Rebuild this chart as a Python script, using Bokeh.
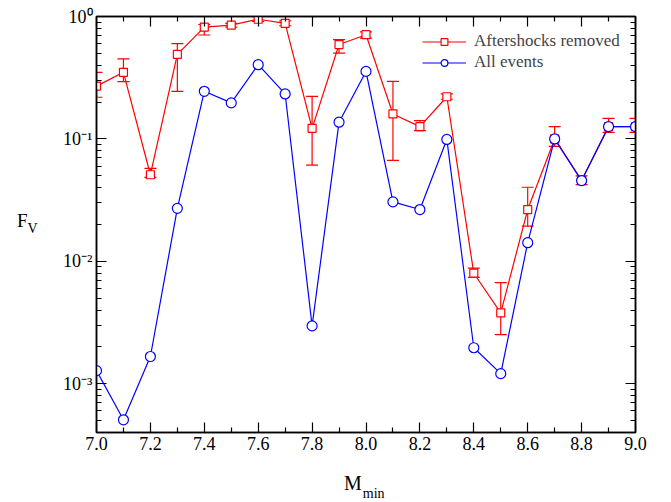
from bokeh.plotting import figure
from bokeh.models import (LogAxis, LinearAxis, FixedTicker, CustomJSTickFormatter, Whisker,
                          TeeHead, ColumnDataSource, Legend, LegendItem, Range1d, Div)
from bokeh.layouts import column
from bokeh.embed import file_html
from bokeh.resources import INLINE

# ---- data ----
m_min = [7.0, 7.1, 7.2, 7.3, 7.4, 7.5, 7.6, 7.7, 7.8, 7.9, 8.0,
         8.1, 8.2, 8.3, 8.4, 8.5, 8.6, 8.7, 8.8, 8.9, 9.0]
removed = [0.27, 0.35, 0.051, 0.49, 0.82, 0.85, 0.95, 0.88, 0.122, 0.59, 0.71,
           0.16, 0.126, 0.221, 0.0080, 0.0038, 0.0265, 0.100, 0.0457, 0.126, 0.126]
removed_upper = [0.35, 0.45, 0.0575, 0.60, 0.86, 0.88, 1.0, 0.92, 0.223, 0.647, 0.75,
                 0.295, 0.141, 0.233, 0.0088, 0.0067, 0.0403, 0.126, 0.050, 0.147, 0.147]
removed_lower = [0.219, 0.294, 0.0486, 0.245, 0.706, 0.82, 0.91, 0.84, 0.061, 0.503, 0.667,
                 0.0669, 0.117, 0.211, 0.0074, 0.00252, 0.0194, 0.087, 0.0424, 0.113, 0.113]
all_events = [0.00128, 0.000508, 0.00167, 0.0271, 0.245, 0.197, 0.404, 0.233, 0.00297, 0.137, 0.356,
              0.0306, 0.0265, 0.099, 0.00197, 0.00121, 0.0142, 0.100, 0.0457, 0.126, 0.126]

x_major = [7.0, 7.2, 7.4, 7.6, 7.8, 8.0, 8.2, 8.4, 8.6, 8.8, 9.0]
x_minor = [7.1, 7.3, 7.5, 7.7, 7.9, 8.1, 8.3, 8.5, 8.7, 8.9]
y_major = [1e-3, 1e-2, 1e-1, 1.0]
y_minor = [k * 10.0 ** e for e in (-4, -3, -2, -1) for k in range(2, 10)]

FONT = "Liberation Serif"
RED = "#ff0000"
BLUE = "#0000ff"

p = figure(width=665, height=500, x_range=Range1d(7.0, 9.0), y_range=Range1d(4e-4, 1.0),
           y_axis_type="log", output_backend="svg", toolbar_location=None,
           min_border_left=96, min_border_top=16, min_border_bottom=68, min_border_right=30)
p.grid.visible = False
p.outline_line_color = "black"
p.outline_line_width = 1.5

src = ColumnDataSource(dict(x=m_min, removed=removed, upper=removed_upper,
                            lower=removed_lower, allev=all_events))

whisk = Whisker(source=src, base="x", upper="upper", lower="lower",
                line_color=RED, line_width=1.2,
                upper_head=TeeHead(size=12, line_color=RED, line_width=1.2),
                lower_head=TeeHead(size=12, line_color=RED, line_width=1.2))
p.add_layout(whisk)

r_line = p.line("x", "removed", source=src, line_color=RED, line_width=1.2)
r_sq = p.scatter("x", "removed", source=src, marker="square", size=8,
                 line_color=RED, fill_color="white", line_width=1.2)
b_line = p.line("x", "allev", source=src, line_color=BLUE, line_width=1.2)
b_ci = p.scatter("x", "allev", source=src, marker="circle", size=10,
                 line_color=BLUE, fill_color="white", line_width=1.2)

sup_code = """
const sup = {'-':'\u207b','0':'\u2070','1':'\u00b9','2':'\u00b2','3':'\u00b3','4':'\u2074',
             '5':'\u2075','6':'\u2076','7':'\u2077','8':'\u2078','9':'\u2079'};
const e = Math.round(Math.log10(tick));
return '10' + String(e).split('').map(c => sup[c]).join('');
"""


def style(ax, labels=True):
    ax.axis_line_color = "black"
    ax.axis_line_width = 1.5
    ax.major_tick_line_color = "black"
    ax.minor_tick_line_color = "black"
    ax.major_tick_line_width = 1.2
    ax.minor_tick_line_width = 1.2
    ax.major_tick_in = 10
    ax.major_tick_out = 0
    ax.minor_tick_in = 5
    ax.minor_tick_out = 0
    ax.major_label_text_font = FONT
    ax.major_label_text_font_size = "18px" if labels else "0px"
    ax.major_label_text_color = "black"
    ax.major_label_standoff = 4 if labels else 0


xb = p.xaxis[0]
xb.ticker = FixedTicker(ticks=x_major, minor_ticks=x_minor)
xb.formatter = CustomJSTickFormatter(code="return tick.toFixed(1);")
style(xb)

yl = p.yaxis[0]
yl.ticker = FixedTicker(ticks=y_major, minor_ticks=y_minor)
yl.formatter = CustomJSTickFormatter(code=sup_code)
style(yl)

xt = LinearAxis(ticker=FixedTicker(ticks=x_major, minor_ticks=x_minor),
                formatter=CustomJSTickFormatter(code="return '';"))
style(xt, labels=False)
p.add_layout(xt, "above")

yr = LogAxis(ticker=FixedTicker(ticks=y_major, minor_ticks=y_minor),
             formatter=CustomJSTickFormatter(code="return '';"))
style(yr, labels=False)
p.add_layout(yr, "right")

legend = Legend(items=[LegendItem(label="Aftershocks removed", renderers=[r_line, r_sq]),
                       LegendItem(label="All events", renderers=[b_line, b_ci])],
                location=(326, 360), border_line_color=None, background_fill_alpha=0,
                label_text_font=FONT, label_text_font_size="17px",
                glyph_width=44, glyph_height=17, label_height=17, label_standoff=8,
                spacing=1, padding=0, margin=0)
p.add_layout(legend)

# axis titles with subscripts (HTML text, positioned absolutely)
y_title = Div(text='F<span style="font-size:14px;position:relative;top:6px;left:0px">V</span>',
              width=40, height=26,
              styles={"position": "absolute", "left": "17px", "top": "211px",
                      "font-family": FONT, "font-size": "19px", "line-height": "19px",
                      "color": "black", "margin": "0", "padding": "0"})
x_title = Div(text='M<span style="font-size:14px;position:relative;top:8px;left:1px">min</span>',
              width=60, height=28,
              styles={"position": "absolute", "left": "344px", "top": "473px",
                      "font-family": FONT, "font-size": "20px", "line-height": "20px",
                      "color": "black", "margin": "0", "padding": "0"})

layout = column(p, y_title, x_title, styles={"position": "relative"})

open("out.html", "w").write(file_html(layout, INLINE))
